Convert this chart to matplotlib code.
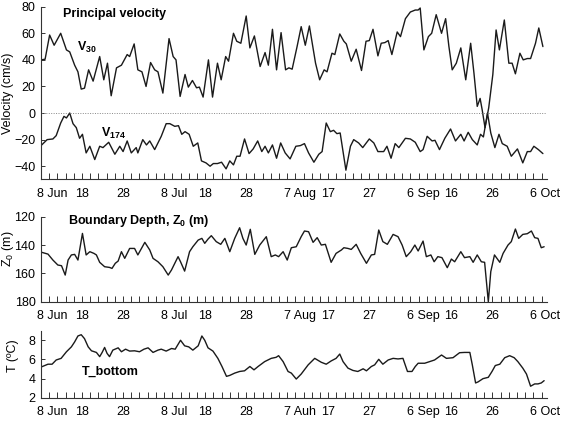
import matplotlib
matplotlib.use("Agg")
import matplotlib.pyplot as plt
from matplotlib.transforms import ScaledTranslation

plt.rcParams['font.family'] = ['Liberation Sans', 'DejaVu Sans']
plt.rcParams['mathtext.fontset'] = 'custom'
plt.rcParams['mathtext.rm'] = 'Liberation Sans'
plt.rcParams['mathtext.bf'] = 'Liberation Sans:bold'

# ---- data (days since 8 Jun) ----
v30_day = [0, 1.0, 2.1, 3.2, 4.8, 6.2, 7.0, 8.2, 9.0, 9.8, 10.6, 11.6, 12.7, 14.3, 15.3, 16.2, 17.1,
           18.4, 19.6, 21.0, 21.6, 22.7, 23.6, 24.6, 25.6, 26.7, 27.7, 28.5, 29.7, 31.2, 32.2, 32.9,
           33.9, 35.1, 35.9, 36.9, 37.9, 38.6, 39.5, 40.8, 41.8, 43.0, 43.9, 45.0, 45.7, 46.9, 47.7,
           48.7, 50.0, 50.9, 52.0, 53.4, 54.6, 55.4, 56.4, 57.4, 58.5, 59.6, 60.4, 61.2, 62.4, 63.4,
           64.4, 65.4, 66.9, 67.9, 69.0, 69.7, 70.9, 71.6, 72.8, 73.8, 74.4, 75.6, 76.8, 78.1, 79.2,
           80.0, 80.9, 82.1, 82.9, 83.8, 84.6, 85.5, 86.8, 87.6, 88.8, 90.0, 91.2, 91.9, 92.4, 93.3,
           94.4, 95.2, 96.3, 97.6, 98.6, 99.4, 100.2, 101.2, 102.3, 103.5, 104.7, 105.5, 106.3, 107.0,
           107.5, 108.2, 109.1, 110.1, 110.9, 111.7, 112.9, 114.0, 114.8, 115.6, 116.7, 117.5, 118.5,
           119.3, 120.5, 121.3, 122.3]
v30_val = [40, 40.5, 58.7, 51, 60, 47.5, 46, 36, 31, 18, 18.7, 32.5, 24, 42.5, 25, 37.5, 13,
           34, 36, 44, 42.5, 52, 32.5, 31, 20, 38, 32.5, 31, 15, 56, 42.5, 40,
           12.5, 29, 19.5, 24.5, 19, 19.5, 12, 40, 12, 37.5, 25, 42.5, 39, 60, 54,
           52.5, 73, 49, 58, 35, 45.5, 36, 63, 32.5, 60.5, 32.5, 34, 33, 50, 65,
           51, 65.5, 37.5, 25, 32.5, 31, 45, 44, 59.5, 54, 52, 39, 48, 32, 54,
           54.5, 63, 43, 52.5, 53, 54.5, 44, 61, 57.5, 71, 76, 77.5, 77.5, 79, 47.5,
           57.5, 60, 74, 60, 71, 50, 32.5, 37.5, 49, 25, 52.5, 30, 5, 11,
           2.5, -11, 4, 29, 62.5, 47.5, 70, 37.5, 37.5, 29.5, 45, 40, 41,
           41, 52.5, 64, 50]

v174_day = [0, 1.5, 2.9, 3.7, 4.8, 5.6, 6.2, 7.0, 7.8, 8.6, 9.4, 10.1, 11.0, 11.9, 13.1, 14.3, 15.1,
            16.5, 18.0, 19.2, 20.0, 21.0, 22.0, 23.2, 23.6, 24.8, 25.7, 26.5, 27.7, 29.3, 30.5, 31.4,
            32.6, 33.5, 34.3, 35.1, 36.1, 37.1, 38.2, 39.1, 40.2, 41.2, 42.0, 43.0, 44.0, 45.1, 46.0,
            46.9, 47.7, 48.5, 49.6, 50.7, 51.7, 52.8, 53.8, 54.6, 55.4, 56.4, 57.4, 58.4, 59.5, 60.7,
            62.1, 63.2, 64.2, 65.2, 66.5, 67.7, 68.5, 69.5, 70.5, 71.3, 72.1, 72.9, 74.3, 75.4, 76.2,
            77.4, 78.4, 80.0, 81.1, 82.1, 83.5, 84.3, 85.3, 86.3, 87.2, 88.8, 90.0, 91.2, 92.4, 93.1,
            94.1, 95.3, 96.0, 97.1, 98.4, 99.8, 101.0, 102.3, 103.1, 104.1, 105.1, 106.3, 107.1, 107.8,
            108.8, 109.6, 110.6, 111.6, 112.4, 113.6, 114.6, 116.1, 117.4, 118.5, 119.3, 120.1, 121.2,
            122.3]
v174_val = [-24.5, -20, -19.5, -17, -7.5, -2.5, -3.7, 0, -8, -11, -19, -16, -30, -25, -35, -25, -26,
            -22, -31, -25, -29, -21, -30, -26, -30, -20, -24, -21, -27.5, -17.5, -8, -8,
            -10, -9.5, -16, -14, -16, -25, -22.5, -36, -37.5, -40, -38, -38, -37, -42, -36,
            -39, -32.5, -32.5, -19.5, -30.5, -27, -21, -29, -25, -30, -24, -34, -22.5, -30, -34.5,
            -25, -24.5, -23, -30, -37, -31, -29, -7.5, -14, -13, -15.5, -15, -43, -25, -20,
            -22.5, -26, -19.5, -22.5, -29, -29, -25, -34, -23, -26, -19, -19.5, -22, -29, -27.5,
            -17.5, -21, -20.5, -27.5, -19, -12, -21, -16, -21, -14.5, -20, -24, -16, -18,
            0, -15, -26, -16, -23, -25, -32.5, -27, -37.5, -29, -29, -25, -27.5,
            -30.5]

z0_day = [0, 1.7, 2.9, 4.1, 5.0, 5.9, 6.6, 7.4, 8.2, 9.0, 10.1, 11.0, 11.9, 12.9, 13.5, 14.3, 15.5,
          16.7, 17.3, 18.1, 18.8, 19.6, 20.4, 21.6, 22.8, 23.6, 25.3, 26.5, 27.3, 28.5, 29.7, 31.0,
          31.8, 33.4, 34.0, 35.0, 36.2, 37.0, 38.3, 39.2, 39.9, 40.7, 41.5, 42.7, 43.8, 44.8, 46.0,
          47.2, 48.4, 49.2, 50.0, 51.0, 52.1, 53.3, 54.9, 56.1, 57.1, 57.9, 59.0, 60.0, 61.0, 62.2,
          63.4, 64.2, 65.2, 66.3, 67.3, 68.3, 69.3, 70.7, 71.9, 73.2, 73.8, 74.8, 75.6, 76.8, 77.9,
          79.3, 80.5, 81.3, 82.3, 83.3, 84.4, 85.8, 87.0, 88.0, 89.0, 90.1, 91.1, 91.9, 93.1, 93.9,
          95.0, 95.8, 96.7, 97.7, 99.0, 100.0, 100.8, 102.3, 103.2, 104.5, 105.3, 106.3, 107.3, 108.1,
          109.0, 109.6, 110.5, 111.8, 112.6, 113.8, 114.6, 115.6, 116.4, 117.4, 118.5, 119.5, 120.3,
          121.1, 121.9, 122.6]
z0_val = [145, 146.4, 150.6, 154.1, 154.6, 161.2, 150.6, 147, 146.6, 150.6, 131.8, 147, 144.7, 145.9, 147, 152.2, 155.3,
          155.8, 156.5, 152.9, 151.3, 144.7, 149.4, 142.4, 142.4, 147, 138.1, 143.5, 149.4, 151.8, 155.3, 161.2,
          157.6, 148.2, 151.8, 158.4, 144.7, 141.2, 136.5, 135.3, 138.8, 135.8, 133.4, 137.6, 139.5, 135.3, 144.7,
          135.3, 127.8, 135.3, 140, 128.9, 146.6, 140, 134.1, 148.2, 147, 148.2, 144.7, 150.6, 141.9, 141.2,
          134.1, 130.1, 130.6, 138.1, 134.8, 140, 139.5, 152.2, 145.9, 143.5, 141.9, 142.4, 143.1, 139.5, 145.9,
          152.9, 147, 146.6, 129.4, 137.6, 139.5, 132.5, 134.1, 140, 148.2, 144.7, 140, 144.2, 137.2, 148.2,
          147, 151.8, 148.2, 148.9, 156, 149.9, 151.8, 144.7, 148.9, 148.2, 152.2, 147, 151.8, 152.2,
          180, 158.8, 147, 152.2, 145.9, 140, 137.6, 128.7, 135.3, 132.5, 132, 130.1, 134.8,
          135.3, 141.9, 141.2]

t_day = [0, 1.7, 2.7, 3.7, 4.9, 6.2, 7.4, 8.2, 9.0, 9.8, 10.6, 11.5, 12.3, 13.5, 14.3, 14.9, 15.5,
         16.1, 16.7, 17.5, 18.8, 19.6, 20.6, 21.6, 22.8, 24.0, 25.1, 26.1, 27.3, 28.5, 29.3, 30.5,
         31.8, 32.7, 34.0, 35.0, 36.0, 37.0, 38.3, 39.2, 39.9, 40.7, 41.9, 43.1, 44.1, 45.2, 46.0,
         47.2, 48.4, 49.6, 50.9, 51.9, 52.9, 54.5, 56.1, 57.3, 57.9, 59.0, 60.2, 61.0, 62.2, 63.4,
         65.1, 66.7, 68.3, 69.5, 70.7, 71.9, 72.8, 73.6, 74.8, 76.0, 77.2, 78.5, 79.3, 80.5, 81.3,
         82.3, 83.3, 84.6, 85.8, 87.0, 88.2, 89.3, 90.4, 91.2, 91.9, 93.5, 94.7, 95.9, 97.6, 98.8,
         100.4, 102.0, 103.2, 104.5, 105.1, 105.9, 106.5, 107.7, 109.0, 109.9, 110.7, 111.8, 113.0,
         114.2, 115.3, 116.2, 117.4, 118.3, 119.3, 120.3, 121.1, 121.9, 122.6]
t_val = [5.2, 5.5, 5.5, 5.94, 6.11, 6.8, 7.31, 7.83, 8.45, 8.58, 8.17, 7.31, 6.9, 6.73, 6.29, 6.73, 7.25,
         6.63, 6.29, 6.97, 7.21, 6.8, 7.07, 6.87, 6.9, 6.8, 7.07, 7.21, 6.73, 6.97, 7.07, 6.87,
         7.14, 7.07, 8.0, 7.42, 7.31, 6.97, 7.42, 8.45, 8.0, 7.21, 6.87, 6.11, 5.26, 4.23, 4.33,
         4.57, 4.74, 4.81, 5.26, 4.91, 5.26, 5.77, 6.11, 6.22, 6.39, 5.77, 4.74, 4.57, 3.95, 4.47,
         5.43, 6.11, 5.7, 5.5, 5.84, 6.11, 6.56, 5.77, 5.09, 4.85, 4.74, 5.02, 4.81, 5.26, 5.43,
         6.01, 5.5, 5.94, 6.11, 6.05, 6.11, 4.74, 4.74, 5.26, 5.6, 5.6, 5.77, 5.94, 6.46, 6.11,
         6.18, 6.7, 6.73, 6.73, 5.43, 3.54, 3.65, 3.99, 4.13, 4.74, 5.36, 5.5, 6.18,
         6.39, 6.18, 5.77, 5.09, 4.47, 3.2, 3.44, 3.44, 3.54, 3.78]

tick_days = list(range(0, 121, 10))
labels_vel = ['8 Jun', '18', '28', '8 Jul', '18', '28', '7 Aug', '17', '27', '6 Sep', '16', '26', '6 Oct']
labels_z0 = labels_vel
labels_t = ['8 Jun', '18', '28', '8 Jul', '18', '28', '7 Auh', '17', '27', '6 Sep', '16', '26', '6 Oct']

# ---- figure ----
W, H = 571, 423
fig = plt.figure(figsize=(W / 100, H / 100), dpi=100)
left, right = 41 / W, 547 / W
ax1 = fig.add_axes([left, 1 - 179.5 / H, right - left, 172.8 / H])
ax2 = fig.add_axes([left, 1 - 301.7 / H, right - left, 85 / H])
ax3 = fig.add_axes([left, 1 - 397.7 / H, right - left, 67 / H])

FS = 9
lc = '#1a1a1a'
lw = 1.0

def style(ax, labels):
    ax.set_xlim(0, 123.3)
    for s in ('top', 'right'):
        ax.spines[s].set_visible(False)
    for s in ('left', 'bottom'):
        ax.spines[s].set_linewidth(0.8)
        ax.spines[s].set_color('#333333')
    ax.set_xticks(range(0, 123, 2), minor=True)
    ax.set_xticks(tick_days)
    ax.set_xticklabels(labels)
    ax.tick_params(axis='x', which='both', direction='in', length=4.5, width=0.7,
                   color='#333333', pad=6, labelsize=FS)
    ax.tick_params(axis='y', direction='in', length=3, width=0.7, color='#333333',
                   pad=4, labelsize=FS)
    off = ScaledTranslation(-2.6 / 72, 0, fig.dpi_scale_trans)
    for lab in ax.get_xticklabels():
        if ' ' in lab.get_text():
            lab.set_horizontalalignment('left')
            lab.set_transform(lab.get_transform() + off)

kw = dict(color=lc, lw=lw, solid_joinstyle='round', solid_capstyle='round')

# top panel
ax1.plot(v30_day, v30_val, **kw)
ax1.plot(v174_day, v174_val, **kw)
ax1.axhline(0, color='#888888', lw=0.7, ls=(0, (1, 1.5)))
ax1.set_ylim(-50, 80)
ax1.set_yticks([-40, -20, 0, 20, 40, 60, 80])
style(ax1, labels_vel)
ax1.set_ylabel('Velocity (cm/s)', fontsize=FS)
ax1.yaxis.set_label_coords(-0.053, 0.5)
ax1.text(5.4, 74.5, 'Principal velocity', fontsize=FS, fontweight='bold', va='center', ha='left')
ax1.text(8.8, 49, r'$\mathbf{V_{30}}$', fontsize=FS, va='center', ha='left')
ax1.text(14.5, -15, r'$\mathbf{V_{174}}$', fontsize=FS, va='center', ha='left')

# middle panel
ax2.plot(z0_day, z0_val, **kw)
ax2.set_ylim(180, 120)
ax2.set_yticks([120, 140, 160, 180])
style(ax2, labels_z0)
ax2.set_ylabel(r'Z$_0$ (m)', fontsize=FS)
ax2.yaxis.set_label_coords(-0.049, 0.62)
ax2.text(6.6, 123, r'Boundary Depth, $\mathbf{Z_0}$ (m)', fontsize=FS, fontweight='bold',
         va='center', ha='left')

# bottom panel
ax3.plot(t_day, t_val, **kw)
ax3.set_ylim(2, 9)
ax3.set_yticks([2, 4, 6, 8])
style(ax3, labels_t)
ax3.set_ylabel('T (ºC)', fontsize=FS)
ax3.yaxis.set_label_coords(-0.043, 0.62)
ax3.text(10, 4.75, 'T_bottom', fontsize=FS, fontweight='bold', va='center', ha='left')

fig.savefig('out.png', dpi=100)
